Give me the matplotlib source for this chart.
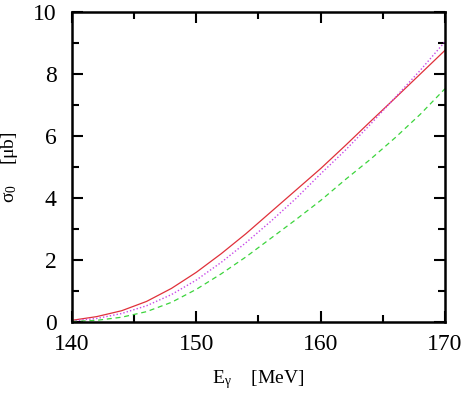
import numpy as np
import matplotlib
matplotlib.use('Agg')
import matplotlib.pyplot as plt
from matplotlib.ticker import MultipleLocator

plt.rcParams['font.family'] = ['Liberation Serif', 'DejaVu Serif']
plt.rcParams['mathtext.fontset'] = 'stix'

# photon energy (MeV)
E = [140, 142, 144, 146, 148, 150, 152, 154, 156, 158, 160, 162, 164, 166, 168, 170]

# cross sections (mu b)
sig_solid = [0.05, 0.17, 0.36, 0.66, 1.08, 1.6, 2.2, 2.85, 3.55, 4.25, 4.95, 5.7, 6.47, 7.23, 8.0, 8.77]
sig_dotted = [0.03, 0.11, 0.27, 0.52, 0.88, 1.35, 1.92, 2.56, 3.25, 3.98, 4.78, 5.55, 6.38, 7.25, 8.12, 9.05]
sig_dashed = [0.01, 0.05, 0.15, 0.33, 0.63, 1.05, 1.55, 2.1, 2.7, 3.3, 3.92, 4.6, 5.25, 5.95, 6.7, 7.53]

fig = plt.figure(figsize=(4.67, 3.93), dpi=100)
ax = fig.add_axes([0.154, 0.181, 0.799, 0.788])

ax.plot(E, sig_solid, color='#e0303a', lw=0.9, ls='-')
ax.plot(E, sig_dotted, color='#c84ae8', lw=1.0, ls=(0, (1, 1.5)))
ax.plot(E, sig_dashed, color='#3cd43c', lw=0.9, ls=(0, (4, 3)))

ax.set_xlim(140, 170)
ax.set_ylim(0, 10)
ax.xaxis.set_major_locator(MultipleLocator(10))
ax.xaxis.set_minor_locator(MultipleLocator(5))
ax.yaxis.set_major_locator(MultipleLocator(2))
ax.yaxis.set_minor_locator(MultipleLocator(1))
ax.tick_params(which='both', direction='in', top=True, right=True, width=1.5)
ax.tick_params(which='major', length=8, labelsize=17)
ax.tick_params(axis='x', which='major', pad=9)
ax.tick_params(axis='y', which='major', pad=11)
ax.tick_params(which='minor', length=5)
for s in ax.spines.values():
    s.set_linewidth(1.8)

ax.set_xlabel(r'E$_\mathregular{γ}$    [MeV]', fontsize=14, labelpad=9)
ax.set_ylabel(r'σ$_\mathregular{0}$    [μb]', fontsize=14)
ax.yaxis.set_label_coords(-0.14, 0.5)

fig.savefig('out.png', dpi=100)
